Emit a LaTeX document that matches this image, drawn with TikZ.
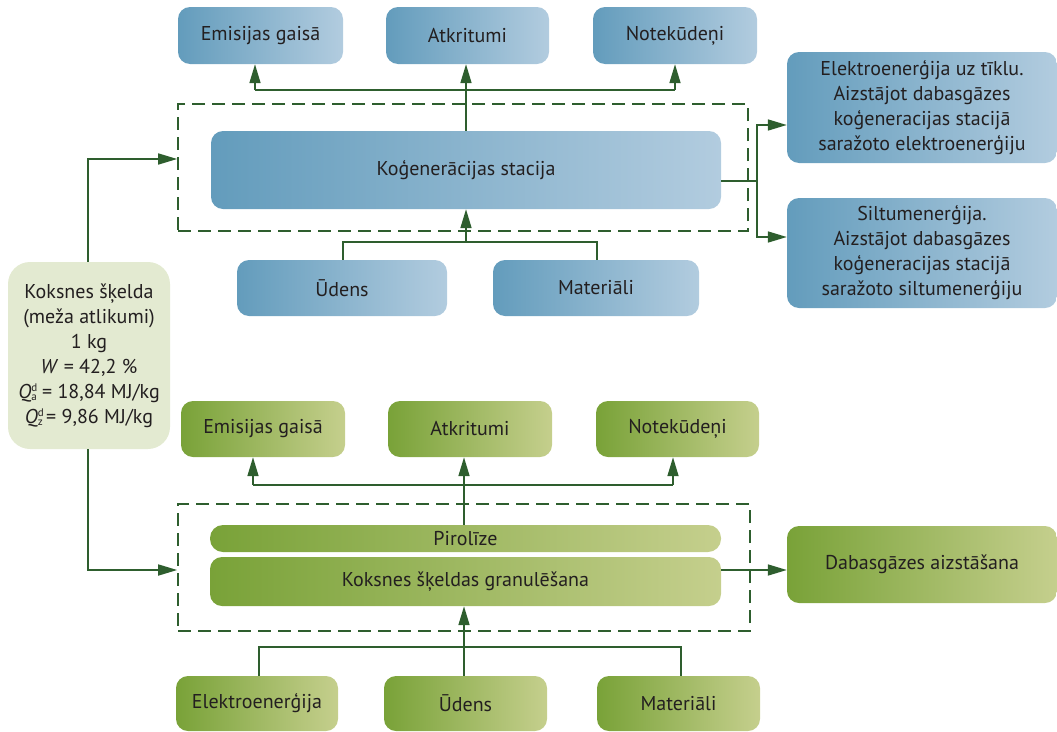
\documentclass[tikz,border=0pt]{standalone}
\usepackage{fontspec}
\setmainfont{PT Sans}
\usetikzlibrary{arrows.meta}
\definecolor{blueL}{HTML}{639CBC}
\definecolor{blueR}{HTML}{B2CCDF}
\definecolor{greenL}{HTML}{79A238}
\definecolor{greenR}{HTML}{C5CF8D}
\definecolor{pale}{HTML}{E3EAD1}
\definecolor{ln}{HTML}{2E5E2E}
\definecolor{txt}{HTML}{231F20}
\newcommand\qsd[1]{\makebox[0pt][l]{\raisebox{7pt}{\fontsize{11}{11}\selectfont d}}\raisebox{-2.5pt}{\fontsize{11}{11}\selectfont #1}}
\tikzset{
  boxbase/.style={rounded corners=12pt, draw=none, align=center, text=txt, inner sep=0pt,
    font=\fontsize{20}{25}\selectfont},
  bluebox/.style={boxbase, left color=blueL, right color=blueR},
  greenbox/.style={boxbase, left color=greenL, right color=greenR},
  palebox/.style={boxbase, fill=pale, rounded corners=22pt, font=\fontsize{20}{25}\selectfont},
  dashbox/.style={draw=ln, line width=1.7pt, dash pattern=on 13pt off 7pt, inner sep=0pt},
  conn/.style={draw=ln, line width=1.7pt},
  arr/.style={conn, -{Triangle[length=19pt,width=11pt]}},
}
\begin{document}
\begin{tikzpicture}[x=1pt,y=-1pt]
\useasboundingbox (0,0) rectangle (1057,731);
% ---------- top (blue) part ----------
\node[dashbox, minimum width=570pt, minimum height=127pt] (dashT) at (463,167.5) {};
\node[bluebox, minimum width=165pt, minimum height=57pt] (emT) at (260.5,35.5) {Emisijas gaisā};
\node[bluebox, minimum width=163pt, minimum height=57pt] (atT) at (467.5,35.5) {Atkritumi};
\node[bluebox, minimum width=164pt, minimum height=57pt] (noT) at (675,35.5) {Notekūdeņi};
\node[bluebox, minimum width=510pt, minimum height=78pt] (kog) at (466,170) {Koģenerācijas stacija};
\node[bluebox, minimum width=270pt, minimum height=111pt] (el) at (922,107.5)
  {Elektroenerģija uz tīklu.\\Aizstājot dabasgāzes\\koģeneracijas stacijā\\saražoto elektroenerģiju};
\node[bluebox, minimum width=270pt, minimum height=110pt] (si) at (922,253)
  {Siltumenerģija.\\Aizstājot dabasgāzes\\koģeneracijas stacijā\\saražoto siltumenerģiju};
\node[bluebox, minimum width=210pt, minimum height=56pt] (udT) at (342,288) {Ūdens};
\node[bluebox, minimum width=206pt, minimum height=56pt] (maT) at (596,288) {Materiāli};
% ---------- left box ----------
\node[palebox, minimum width=162pt, minimum height=187pt] (left) at (89,355.5)
  {Koksnes šķelda\\(meža atlikumi)\\1 kg\\\textit{W} = 42,2 \%\\\textit{Q}\qsd{a} = 18,84 MJ/kg\\\textit{Q}\qsd{z}\,= 9,86 MJ/kg};
% ---------- bottom (green) part ----------
\node[dashbox, minimum width=572pt, minimum height=127pt] (dashB) at (464,567.5) {};
\node[greenbox, minimum width=164pt, minimum height=56pt] (emG) at (263,429) {Emisijas gaisā};
\node[greenbox, minimum width=164pt, minimum height=56pt] (atG) at (470,429) {Atkritumi};
\node[greenbox, minimum width=163pt, minimum height=56pt] (noG) at (677.5,429) {Notekūdeņi};
\node[greenbox, minimum width=511pt, minimum height=27pt, rounded corners=13pt] (pir) at (465.5,538.5) {Pirolīze};
\node[greenbox, minimum width=511pt, minimum height=49pt] (gran) at (465.5,581.5) {Koksnes šķeldas granulēšana};
\node[greenbox, minimum width=270pt, minimum height=77pt] (dab) at (922,564.5) {Dabasgāzes aizstāšana};
\node[greenbox, minimum width=162pt, minimum height=55pt] (elB) at (257,703.5) {Elektroenerģija};
\node[greenbox, minimum width=163pt, minimum height=55pt] (udB) at (465.5,703.5) {Ūdens};
\node[greenbox, minimum width=163pt, minimum height=55pt] (maB) at (678.5,703.5) {Materiāli};
% ---------- junction coordinates ----------
\coordinate (tL) at (255,90);
\coordinate (tM) at (466,90);
\coordinate (tR) at (675,90);
\coordinate (rJ) at (757,181);
\coordinate (uJ) at (466,242);
\coordinate (gL) at (253,485);
\coordinate (gM) at (464,485);
\coordinate (gR) at (673,485);
\coordinate (bJ) at (464,647);
% ---------- top connectors ----------
\draw[arr] (kog.north -| tM) -- (tM |- atT.south);
\draw[conn] (tL) -- (tR);
\draw[arr] (tL) -- (tL |- emT.south);
\draw[arr] (tR) -- (tR |- noT.south);
\draw[conn] (kog.east |- rJ) -- (rJ);
\draw[arr] (rJ) |- (el.west |- 0,125);
\draw[arr] (rJ) |- (si.west |- 0,237);
\draw[conn] (udT.north -| 343,0) |- (uJ) -| (maT.north -| 597,0);
\draw[arr] (uJ) -- (uJ |- kog.south);
% ---------- left connectors ----------
\draw[arr] (left.north -| 88,0) |- (dashT.west |- 0,159);
\draw[arr] (left.south -| 88,0) |- (dashB.west |- 0,570);
% ---------- bottom connectors ----------
\draw[conn] (pir.north -| gM) -- (gM);
\draw[arr] (gM) -- (gM |- atG.south);
\draw[conn] (gL) -- (gR);
\draw[arr] (gL) -- (gL |- emG.south);
\draw[arr] (gR) -- (gR |- noG.south);
\draw[arr] (gran.east |- 0,570) -- (dab.west |- 0,570);
\draw[conn] (elB.north -| 259,0) |- (bJ) -| (maB.north -| 681,0);
\draw[arr] (udB.north -| bJ) -- (bJ |- gran.south);
\end{tikzpicture}
\end{document}
